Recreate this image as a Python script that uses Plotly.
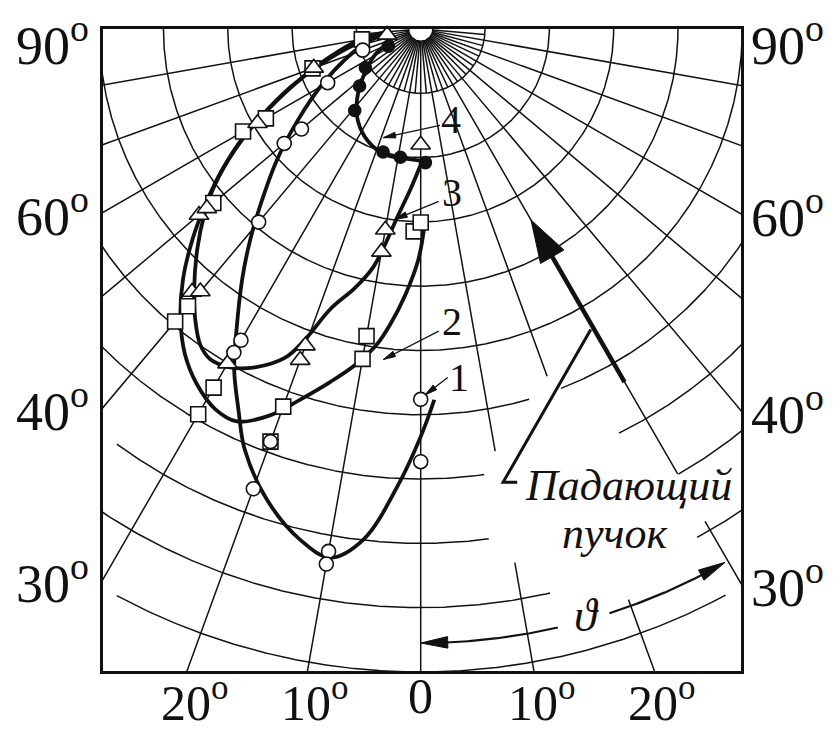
import numpy as np
import plotly.graph_objects as go

# ---------------- grid values (azimuth in degrees, radius in ring steps) ----------------
ring_steps = [1, 2, 3, 4, 5, 6, 7, 8, 9, 10]
meridian_az = [-80, -70, -60, -50, -40, -30, -20, -10, 0, 10, 20, 30, 40, 50, 60, 70, 80]
inner_fan_az = [-85, -75, -65, -55, -45, -35, -25, -15, -5, 5, 15, 25, 35, 45, 55, 65, 75, 85]
side_label_az = [90, 60, 40, 30]
bottom_label_az = [-20, -10, 0, 10, 20]

# ---------------- measured points: azimuth (deg) and radius (ring steps) ----------------
c1_az = [0, 0, -10, -10, -20, -20, -30, -30, -40, -50, -50, -60, -70]
c1_r = [5.76, 6.73, 8.25, 8.45, 7.61, 6.83, 5.59, 5.81, 3.92, 2.77, 2.42, 1.67, 0.96]

c2_az = [-80, -70, -60, -60, -50, -40, -40, -30, -30, -20, -20, -10, -10, -2, 0]
c2_r = [0.93, 1.79, 2.78, 3.19, 4.21, 5.63, 5.94, 6.44, 6.92, 6.25, 6.83, 4.85, 5.21, 3.15, 3.01]

c3_az = [0, -10, -10, -20, -20, -30, -41, -40, -50, -50, -60, -70, -80]
c3_r = [1.80, 3.17, 3.52, 5.24, 5.48, 6.01, 5.42, 5.33, 4.50, 4.34, 2.93, 1.77, 0.53]

c4_az = [-62, -55, -47, -39, -17, -9, 2]
c4_r = [0.57, 1.05, 1.30, 1.63, 2.00, 2.02, 2.08]

# smooth curves drawn through the measurements
c1_line_az = [2.1, 0, -2.9, -6.4, -9.7, -13.3, -18.1, -22.7, -25.6, -28.7, -31.5, -35.5,
              -39.0, -42.9, -47.7, -53.5, -60.6, -68.0, -76.6, -82.1]
c1_line_r = [5.77, 6.34, 7.12, 7.99, 8.34, 8.16, 7.70, 7.09, 6.56, 6.04, 5.48, 4.78,
             4.21, 3.62, 3.02, 2.37, 1.76, 1.27, 0.84, 0.51]

c2_line_az = [1.0, -0.6, -3.3, -5.9, -7.9, -11.0, -14.4, -18.0, -21.3, -25.1, -28.4, -32.2,
              -35.9, -39.6, -43.5, -47.3, -50.8, -54.7, -59.0, -62.5, -67.3, -73.1, -80.2, -85.6]
c2_line_r = [3.09, 3.59, 4.14, 4.62, 4.95, 5.32, 5.67, 6.06, 6.45, 6.74, 6.72, 6.53,
             6.25, 5.86, 5.37, 4.83, 4.32, 3.78, 3.18, 2.64, 2.03, 1.47, 0.95, 0.51]

c3_line_az = [0, -3.7, -7.1, -9.4, -11.3, -14.2, -17.9, -20.4, -22.4, -26.1, -29.4, -32.5,
              -34.9, -37.8, -41.0, -45.4, -49.4, -52.9, -57.0, -61.1, -65.9, -70.5, -76.7, -83.0]
c3_line_r = [2.11, 2.50, 2.95, 3.40, 3.78, 4.15, 4.58, 5.15, 5.53, 5.86, 6.04, 6.09,
             5.99, 5.72, 5.37, 4.88, 4.43, 4.01, 3.44, 2.85, 2.22, 1.66, 1.05, 0.51]

c4_line_az = [-69.8, -60.7, -51.2, -42.0, -34.0, -25.0, -15.8, -6.8, 3.2]
c4_line_r = [0.47, 0.81, 1.13, 1.48, 1.74, 1.93, 2.03, 2.03, 2.06]

# ---------------- layout geometry / style ----------------
X_RANGE = [-4.94, 4.98]
Y_RANGE = [-9.985, 0.0]
POLE_R = 0.19
RING_LIMITS = {8: (-36.2, 90), 10: (-28.2, 28.3)}
MASK = [(0.99, -6.82), (1.70, -5.76), (1.98, -5.39), (2.26, -5.70), (3.13, -6.34),
        (3.75, -6.54), (4.44, -7.61), (4.19, -8.10), (3.29, -8.87), (2.11, -8.84),
        (1.51, -8.33), (1.07, -7.97)]
SERIF = "Liberation Serif, Times New Roman, DejaVu Serif, serif"
INK = "#111111"
GRID_W = 1.5


def pol(az, r):
    a = np.radians(np.asarray(az, float))
    r = np.asarray(r, float)
    return r * np.sin(a), -r * np.cos(a)


def inside(px, py, poly):
    c = np.zeros(px.shape, bool)
    j = len(poly) - 1
    for i in range(len(poly)):
        xi, yi = poly[i]
        xj, yj = poly[j]
        cond = ((yi > py) != (yj > py)) & (px < (xj - xi) * (py - yi) / (yj - yi + 1e-12) + xi)
        c ^= cond
        j = i
    return c


gx, gy = [], []


def add_line(x, y, masked=True):
    x = np.asarray(x, float)
    y = np.asarray(y, float)
    m = inside(x, y, MASK) if masked else np.zeros(x.shape, bool)
    for xi, yi, mi in zip(x, y, m):
        gx.append(None if mi else float(xi))
        gy.append(None if mi else float(yi))
    gx.append(None)
    gy.append(None)


for k in ring_steps:
    lo, hi = RING_LIMITS.get(k, (-90, 90))
    a = np.linspace(lo, hi, 900)
    add_line(*pol(a, np.full_like(a, k)))

for az in meridian_az:
    r = np.linspace(POLE_R, 16, 1600)
    add_line(*pol(np.full_like(r, az), r))

for az in inner_fan_az:
    r = np.linspace(POLE_R, 1.0, 60)
    add_line(*pol(np.full_like(r, az), r))

fig = go.Figure()
fig.add_trace(go.Scatter(x=gx, y=gy, mode="lines", line=dict(color=INK, width=GRID_W),
                         hoverinfo="skip", showlegend=False))

# pole (white half disc)
pa = np.linspace(0, 360, 90)
px_, py_ = pol(pa, np.full_like(pa, POLE_R))
fig.add_trace(go.Scatter(x=px_, y=py_, mode="lines", fill="toself", fillcolor="white",
                         line=dict(color=INK, width=1.5), hoverinfo="skip", showlegend=False))

# curves
for laz, lr in [(c1_line_az, c1_line_r), (c2_line_az, c2_line_r),
                (c3_line_az, c3_line_r), (c4_line_az, c4_line_r)]:
    x, y = pol(laz, lr)
    fig.add_trace(go.Scatter(x=x, y=y, mode="lines",
                             line=dict(color=INK, width=3.8, shape="spline", smoothing=1.0),
                             hoverinfo="skip", showlegend=False))

# markers
for az, r, sym, size, fill in [(c2_az, c2_r, "square", 15, "white"),
                               (c3_az, c3_r, "triangle-up", 17, "white"),
                               (c1_az, c1_r, "circle", 14, "white"),
                               (c4_az, c4_r, "circle", 12, INK)]:
    x, y = pol(az, r)
    fig.add_trace(go.Scatter(x=x, y=y, mode="markers", cliponaxis=False,
                             marker=dict(symbol=sym, size=size, color=fill,
                                         line=dict(color=INK, width=1.6)),
                             hoverinfo="skip", showlegend=False))


def head(tip, frm, length, width):
    tip = np.asarray(tip, float)
    d = tip - np.asarray(frm, float)
    d /= np.hypot(*d)
    n = np.array([-d[1], d[0]])
    b = tip - length * d
    p = [tip, b + n * width / 2, b - n * width / 2, tip]
    return [q[0] for q in p], [q[1] for q in p]


def add_head(tip, frm, length, width):
    hx, hy = head(tip, frm, length, width)
    fig.add_trace(go.Scatter(x=hx, y=hy, mode="lines", fill="toself", fillcolor=INK,
                             line=dict(color=INK, width=1), hoverinfo="skip", showlegend=False))


# incident beam arrow along the 30 deg meridian
beam_az, beam_tail, beam_tip = 30, 6.34, 3.43
sx, sy = pol([beam_az, beam_az], [beam_tail, beam_tip + 0.5])
fig.add_trace(go.Scatter(x=sx, y=sy, mode="lines", line=dict(color=INK, width=4.5),
                         hoverinfo="skip", showlegend=False))
add_head(pol(beam_az, beam_tip), pol(beam_az, beam_tail), 0.66, 0.42)

# leader from text to beam
lx, ly = pol([29.5], [5.37])
fig.add_trace(go.Scatter(x=[1.50, 1.28, float(lx[0])], y=[-7.05, -7.05, float(ly[0])], mode="lines",
                         line=dict(color=INK, width=3), hoverinfo="skip", showlegend=False))

# theta arcs
TH_R = 9.55
for a0, a1, atip in [(12.9, 2.4, 0.0), (17.9, 27.3, 29.7)]:
    a = np.linspace(a0, a1, 80)
    x, y = pol(a, np.full_like(a, TH_R))
    fig.add_trace(go.Scatter(x=x, y=y, mode="lines", line=dict(color=INK, width=2.2),
                             hoverinfo="skip", showlegend=False))
    add_head(pol(atip, TH_R), pol(a1 + (a1 - atip) * 0.2, TH_R), 0.42, 0.18)

# ---------------- text ----------------
ann = []
for lab, (tx, ty), (hx, hy), (ax_, ay_) in [
        ("1", (0.60, -5.42), (0.07, -5.69), (0.42, -5.42)),
        ("2", (0.49, -4.55), (-0.58, -5.14), (0.28, -4.70)),
        ("3", (0.49, -2.55), (-0.40, -2.96), (0.28, -2.68)),
        ("4", (0.47, -1.40), (-0.58, -1.69), (0.30, -1.50))]:
    ann.append(dict(x=tx, y=ty, text=lab, showarrow=False, font=dict(family=SERIF, size=40, color=INK)))
    # pointer from label to curve
    fig.add_trace(go.Scatter(x=[ax_, hx], y=[ay_, hy], mode="lines", line=dict(color=INK, width=1.3),
                             hoverinfo="skip", showlegend=False))
    add_head((hx, hy), (ax_, ay_), 0.19, 0.09)

ann.append(dict(x=3.23, y=-7.10, text="<i>Падающий</i>", showarrow=False,
                font=dict(family=SERIF, size=44, color=INK)))
ann.append(dict(x=3.02, y=-7.84, text="<i>пучок</i>", showarrow=False,
                font=dict(family=SERIF, size=44, color=INK)))
ann.append(dict(x=2.57, y=-9.12, text="<i>ϑ</i>", showarrow=False,
                font=dict(family=SERIF, size=46, color=INK)))

for az in side_label_az:
    txt = f"{az}<sup>o</sup>"
    for side, xe in (("left", X_RANGE[0]), ("right", X_RANGE[1])):
        yv = -abs(xe) / np.tan(np.radians(az)) if az != 90 else 0.0
        ann.append(dict(x=0 if side == "left" else 1, xref="paper", y=float(yv), yref="y",
                        text=txt, showarrow=False,
                        xanchor="right" if side == "left" else "left",
                        xshift=-12 if side == "left" else 8,
                        yanchor="middle",
                        yshift=-12 if az == 90 else 0,
                        font=dict(family=SERIF, size=54, color=INK)))

for az in bottom_label_az:
    xv = Y_RANGE[0] * -np.tan(np.radians(az))
    txt = "0" if az == 0 else f"{abs(az)}<sup>o</sup>"
    ann.append(dict(x=float(xv), xref="x", y=0, yref="paper", text=txt, showarrow=False,
                    xanchor="center", xshift=0 if az == 0 else 8, yanchor="top", yshift=5,
                    font=dict(family=SERIF, size=50, color=INK)))

axis_common = dict(showgrid=False, zeroline=False, showticklabels=False, ticks="",
                   showline=True, mirror=True, linewidth=3, linecolor=INK, fixedrange=True)
# the page body adds an 8 px margin, so the figure is 8 px smaller than the window
fig.update_layout(
    width=827, height=723,
    margin=dict(l=95, r=94, t=21, b=60),
    paper_bgcolor="white", plot_bgcolor="white",
    xaxis=dict(range=X_RANGE, **axis_common),
    yaxis=dict(range=Y_RANGE, **axis_common),
    annotations=ann,
    showlegend=False,
)
fig.write_html("out.html")
